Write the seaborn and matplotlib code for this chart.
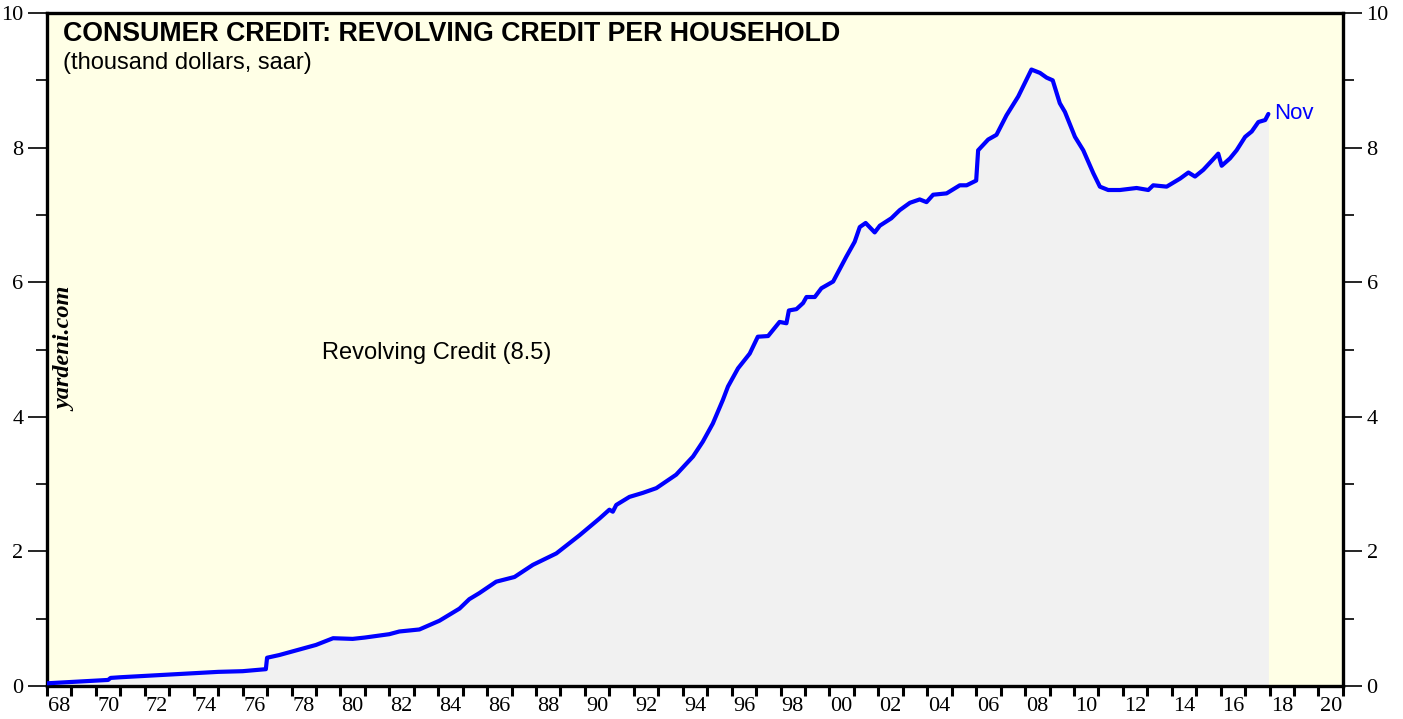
import numpy as np
import pandas as pd
import seaborn as sns
import matplotlib.pyplot as plt
from matplotlib.ticker import MultipleLocator, FixedLocator, NullFormatter

# Revolving credit per household (thousand dollars)
years = [1968.0, 1969.0, 1970.0, 1970.5, 1970.6, 1971.0, 1972.0, 1973.0, 1974.0, 1975.0,
         1976.0, 1976.95, 1977.0, 1977.5, 1978.0, 1978.5, 1979.0, 1979.7, 1980.5, 1981.0,
         1982.0, 1982.41, 1983.23, 1984.05, 1984.87, 1985.27, 1985.68, 1986.37, 1987.12,
         1987.87, 1988.83, 1989.78, 1990.6, 1991.0, 1991.14, 1991.28, 1991.82, 1992.37,
         1992.92, 1993.73, 1994.42, 1994.82, 1995.23, 1995.64, 1995.85, 1996.26, 1996.74,
         1997.07, 1997.49, 1997.96, 1998.24, 1998.34, 1998.65, 1998.92, 1999.06, 1999.40,
         1999.67, 2000.15, 2000.69, 2001.03, 2001.24, 2001.48, 2001.85, 2002.06, 2002.53,
         2002.87, 2003.29, 2003.69, 2003.97, 2004.24, 2004.79, 2005.33, 2005.61, 2006.0,
         2006.08, 2006.49, 2006.83, 2007.24, 2007.72, 2008.26, 2008.61, 2008.88, 2009.13,
         2009.42, 2009.63, 2010.04, 2010.38, 2010.79, 2011.06, 2011.40, 2011.88, 2012.56,
         2013.04, 2013.24, 2013.79, 2014.34, 2014.68, 2014.95, 2015.29, 2015.70, 2015.90,
         2016.04, 2016.38, 2016.65, 2017.0, 2017.27, 2017.54, 2017.82, 2017.95]
credit = [0.04, 0.06, 0.08, 0.09, 0.12, 0.13, 0.15, 0.17, 0.19, 0.21,
          0.22, 0.25, 0.42, 0.46, 0.51, 0.56, 0.61, 0.71, 0.70, 0.72,
          0.77, 0.81, 0.84, 0.97, 1.15, 1.29, 1.38, 1.55, 1.62,
          1.80, 1.97, 2.24, 2.49, 2.62, 2.59, 2.69, 2.81, 2.87,
          2.94, 3.14, 3.41, 3.63, 3.90, 4.25, 4.45, 4.72, 4.94,
          5.19, 5.20, 5.41, 5.39, 5.58, 5.60, 5.69, 5.78, 5.78,
          5.91, 6.01, 6.38, 6.60, 6.82, 6.88, 6.74, 6.84, 6.95,
          7.07, 7.18, 7.23, 7.19, 7.30, 7.32, 7.44, 7.44, 7.51,
          7.96, 8.12, 8.19, 8.48, 8.76, 9.16, 9.11, 9.04, 9.00,
          8.66, 8.53, 8.16, 7.96, 7.62, 7.42, 7.37, 7.37, 7.40,
          7.37, 7.44, 7.42, 7.54, 7.63, 7.57, 7.67, 7.83, 7.91,
          7.73, 7.84, 7.96, 8.16, 8.24, 8.38, 8.41, 8.50]

year_labels = ['68', '70', '72', '74', '76', '78', '80', '82', '84', '86', '88', '90', '92',
               '94', '96', '98', '00', '02', '04', '06', '08', '10', '12', '14', '16', '18', '20']

df = pd.DataFrame({'year': years, 'credit': credit})

sns.set_style('white')
plt.rcParams['font.family'] = ['Liberation Sans', 'DejaVu Sans']
plt.rcParams['text.color'] = 'black'
plt.rcParams['xtick.color'] = 'black'
plt.rcParams['ytick.color'] = 'black'

fig = plt.figure(figsize=(14.03, 7.19), dpi=100)
ax = fig.add_axes([0.0335, 0.0459, 0.9237, 0.936])
ax.set_facecolor('#ffffe6')

ax.fill_between(df['year'], df['credit'], 0, color='#f1f1f1', lw=0, zorder=1)
sns.lineplot(data=df, x='year', y='credit', color='#0000ff', lw=3.0, ax=ax, zorder=3)

ax.set_xlim(1968, 2021)
ax.set_ylim(0, 10)
ax.set_xlabel('')
ax.set_ylabel('')

for s in ax.spines.values():
    s.set_linewidth(2.4)
    s.set_color('black')

# x axis: ticks at each year, labels centred in even years
ax.xaxis.set_major_locator(MultipleLocator(1))
ax.xaxis.set_major_formatter(NullFormatter())
ax.xaxis.set_minor_locator(FixedLocator([1968.5 + 2 * i for i in range(len(year_labels))]))
ax.set_xticklabels(year_labels, minor=True)
ax.tick_params(axis='x', which='major', direction='out', length=7, width=2.2, bottom=True)
ax.tick_params(axis='x', which='minor', length=0, pad=8, labelsize=16,
               labelfontfamily='Liberation Serif')

# y axis on both sides
ax.yaxis.set_major_locator(MultipleLocator(2))
ax.yaxis.set_minor_locator(MultipleLocator(1))
ax.tick_params(axis='y', which='major', direction='out', length=14, width=1.2,
               left=True, right=True, labelleft=True, labelright=True,
               labelsize=16, labelfontfamily='Liberation Serif', pad=3)
ax.tick_params(axis='y', which='minor', direction='out', length=8, width=1.2,
               left=True, right=True)

ax.text(0.012, 0.969, 'CONSUMER CREDIT: REVOLVING CREDIT PER HOUSEHOLD', transform=ax.transAxes,
        fontsize=19.3, fontweight='bold', va='center', ha='left')
ax.text(0.012, 0.925, '(thousand dollars, saar)', transform=ax.transAxes,
        fontsize=17, va='center', ha='left')
ax.text(1983.95, 4.95, 'Revolving Credit (8.5)', fontsize=17, va='center', ha='center')
ax.text(2018.2, 8.5, 'Nov', fontsize=16, color='#0000ff', va='center', ha='left')
ax.text(0.0145, 0.5, 'yardeni.com', transform=ax.transAxes, rotation=90, fontsize=17.5,
        fontweight='bold', fontstyle='italic', family='Liberation Serif',
        va='center', ha='center')

fig.savefig('out.png', dpi=100)
